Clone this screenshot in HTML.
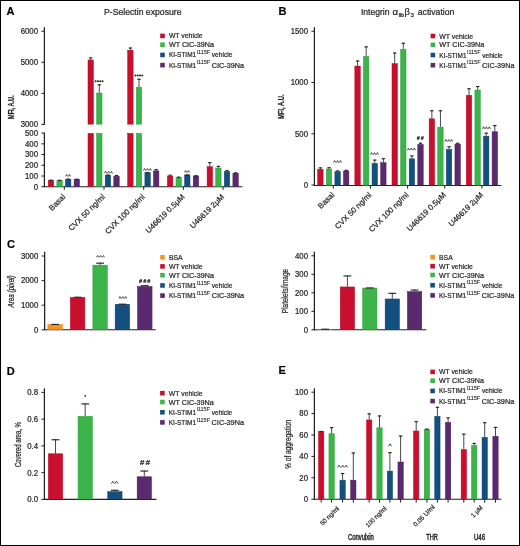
<!DOCTYPE html>
<html><head><meta charset="utf-8"><style>
html,body{margin:0;padding:0;background:#fff;}
body{width:520px;height:546px;overflow:hidden;}
svg{display:block;font-family:"Liberation Sans", sans-serif;will-change:transform;}
text{stroke:#231f20;stroke-width:0.22px;}
</style></head><body>
<svg width="520" height="546" viewBox="0 0 520 546">
<rect width="520" height="546" fill="#fff"/>
<rect x="0.5" y="0.5" width="519" height="545" fill="none" stroke="#000" stroke-width="1"/>
<text x="6.4" y="14.7" font-size="11" font-weight="bold" fill="#000">A</text>
<text x="278.6" y="14.9" font-size="11" font-weight="bold" fill="#000">B</text>
<text x="7" y="248.3" font-size="11" font-weight="bold" fill="#000">C</text>
<text x="6.7" y="374.7" font-size="11" font-weight="bold" fill="#000">D</text>
<text x="278.5" y="374.4" font-size="11" font-weight="bold" fill="#000">E</text>
<text x="104" y="15" font-size="8.6" textLength="77.5" lengthAdjust="spacingAndGlyphs" fill="#231f20">P-Selectin exposure</text>
<line x1="44.4" y1="27.2" x2="44.4" y2="124.9" stroke="#231f20" stroke-width="1.25"/>
<line x1="44.4" y1="132.6" x2="44.4" y2="187.25" stroke="#231f20" stroke-width="1.25"/>
<line x1="41.4" y1="31.25" x2="44.4" y2="31.25" stroke="#231f20" stroke-width="1"/>
<text x="38" y="34.13" font-size="8.2" text-anchor="end" textLength="17.33" lengthAdjust="spacingAndGlyphs" fill="#231f20">6000</text>
<line x1="41.4" y1="62.3" x2="44.4" y2="62.3" stroke="#231f20" stroke-width="1"/>
<text x="38" y="65.18" font-size="8.2" text-anchor="end" textLength="17.33" lengthAdjust="spacingAndGlyphs" fill="#231f20">5000</text>
<line x1="41.4" y1="93.35" x2="44.4" y2="93.35" stroke="#231f20" stroke-width="1"/>
<text x="38" y="96.23" font-size="8.2" text-anchor="end" textLength="17.33" lengthAdjust="spacingAndGlyphs" fill="#231f20">4000</text>
<line x1="41.4" y1="124.4" x2="44.4" y2="124.4" stroke="#231f20" stroke-width="1"/>
<text x="38" y="127.28" font-size="8.2" text-anchor="end" textLength="17.33" lengthAdjust="spacingAndGlyphs" fill="#231f20">3000</text>
<line x1="41.4" y1="133.1" x2="44.4" y2="133.1" stroke="#231f20" stroke-width="1"/>
<text x="38" y="135.98" font-size="8.2" text-anchor="end" textLength="13" lengthAdjust="spacingAndGlyphs" fill="#231f20">500</text>
<line x1="41.4" y1="143.83" x2="44.4" y2="143.83" stroke="#231f20" stroke-width="1"/>
<text x="38" y="146.71" font-size="8.2" text-anchor="end" textLength="13" lengthAdjust="spacingAndGlyphs" fill="#231f20">400</text>
<line x1="41.4" y1="154.56" x2="44.4" y2="154.56" stroke="#231f20" stroke-width="1"/>
<text x="38" y="157.44" font-size="8.2" text-anchor="end" textLength="13" lengthAdjust="spacingAndGlyphs" fill="#231f20">300</text>
<line x1="41.4" y1="165.29" x2="44.4" y2="165.29" stroke="#231f20" stroke-width="1"/>
<text x="38" y="168.17" font-size="8.2" text-anchor="end" textLength="13" lengthAdjust="spacingAndGlyphs" fill="#231f20">200</text>
<line x1="41.4" y1="176.02" x2="44.4" y2="176.02" stroke="#231f20" stroke-width="1"/>
<text x="38" y="178.9" font-size="8.2" text-anchor="end" textLength="13" lengthAdjust="spacingAndGlyphs" fill="#231f20">100</text>
<line x1="41.4" y1="186.75" x2="44.4" y2="186.75" stroke="#231f20" stroke-width="1"/>
<text x="38" y="189.63" font-size="8.2" text-anchor="end" textLength="4.33" lengthAdjust="spacingAndGlyphs" fill="#231f20">0</text>
<line x1="44.4" y1="186.75" x2="242.5" y2="186.75" stroke="#231f20" stroke-width="1.1"/>
<text transform="translate(13.6 107.2) rotate(-90)" x="0" y="0" font-size="9.8" text-anchor="middle" fill="#231f20" textLength="23.6" lengthAdjust="spacingAndGlyphs" font-weight="bold">MFI, A.U.</text>
<line x1="64.3" y1="186.75" x2="64.3" y2="189.85" stroke="#231f20" stroke-width="1"/>
<rect x="48.3" y="180.35" width="5.4" height="6.15" fill="#c8102e" stroke="#bd0020" stroke-width="0.5"/>
<line x1="51" y1="180.1" x2="51" y2="179.67" stroke="#333333" stroke-width="0.9"/>
<line x1="49.3" y1="180.22" x2="52.7" y2="180.22" stroke="#262626" stroke-width="1.15"/>
<rect x="56.9" y="180.45" width="5.4" height="6.05" fill="#3cb44a" stroke="#20a236" stroke-width="0.5"/>
<line x1="59.6" y1="180.2" x2="59.6" y2="179.78" stroke="#333333" stroke-width="0.9"/>
<line x1="57.9" y1="180.33" x2="61.3" y2="180.33" stroke="#262626" stroke-width="1.15"/>
<rect x="65.5" y="179.27" width="5.4" height="7.23" fill="#134f7f" stroke="#053f6e" stroke-width="0.5"/>
<line x1="68.2" y1="179.02" x2="68.2" y2="178.6" stroke="#333333" stroke-width="0.9"/>
<line x1="66.5" y1="179.15" x2="69.9" y2="179.15" stroke="#262626" stroke-width="1.15"/>
<rect x="74.1" y="179.27" width="5.4" height="7.23" fill="#5b2a6e" stroke="#4a1660" stroke-width="0.5"/>
<line x1="76.8" y1="179.02" x2="76.8" y2="178.7" stroke="#333333" stroke-width="0.9"/>
<line x1="75.1" y1="179.25" x2="78.5" y2="179.25" stroke="#262626" stroke-width="1.15"/>
<line x1="104" y1="186.75" x2="104" y2="189.85" stroke="#231f20" stroke-width="1"/>
<rect x="88" y="133.35" width="5.4" height="53.15" fill="#c8102e" stroke="#bd0020" stroke-width="0.5"/>
<rect x="88" y="59.94" width="5.4" height="64.21" fill="#c8102e" stroke="#bd0020" stroke-width="0.5"/>
<line x1="90.7" y1="59.69" x2="90.7" y2="57.39" stroke="#333333" stroke-width="0.9"/>
<line x1="89" y1="57.94" x2="92.4" y2="57.94" stroke="#262626" stroke-width="1.15"/>
<rect x="96.6" y="133.35" width="5.4" height="53.15" fill="#3cb44a" stroke="#20a236" stroke-width="0.5"/>
<rect x="96.6" y="93.04" width="5.4" height="31.11" fill="#3cb44a" stroke="#20a236" stroke-width="0.5"/>
<line x1="99.3" y1="92.79" x2="99.3" y2="84.31" stroke="#333333" stroke-width="0.9"/>
<line x1="97.6" y1="84.86" x2="101" y2="84.86" stroke="#262626" stroke-width="1.15"/>
<rect x="105.2" y="175.2" width="5.4" height="11.3" fill="#134f7f" stroke="#053f6e" stroke-width="0.5"/>
<line x1="107.9" y1="174.95" x2="107.9" y2="174.52" stroke="#333333" stroke-width="0.9"/>
<line x1="106.2" y1="175.07" x2="109.6" y2="175.07" stroke="#262626" stroke-width="1.15"/>
<rect x="113.8" y="176.27" width="5.4" height="10.23" fill="#5b2a6e" stroke="#4a1660" stroke-width="0.5"/>
<rect x="114.8" y="174.92" width="3.4" height="1.1" fill="#262626"/>
<line x1="143.7" y1="186.75" x2="143.7" y2="189.85" stroke="#231f20" stroke-width="1"/>
<rect x="127.7" y="133.35" width="5.4" height="53.15" fill="#c8102e" stroke="#bd0020" stroke-width="0.5"/>
<rect x="127.7" y="50.25" width="5.4" height="73.9" fill="#c8102e" stroke="#bd0020" stroke-width="0.5"/>
<line x1="130.4" y1="50" x2="130.4" y2="47.49" stroke="#333333" stroke-width="0.9"/>
<line x1="128.7" y1="48.04" x2="132.1" y2="48.04" stroke="#262626" stroke-width="1.15"/>
<rect x="136.3" y="133.35" width="5.4" height="53.15" fill="#3cb44a" stroke="#20a236" stroke-width="0.5"/>
<rect x="136.3" y="87.27" width="5.4" height="36.88" fill="#3cb44a" stroke="#20a236" stroke-width="0.5"/>
<line x1="139" y1="87.02" x2="139" y2="78.69" stroke="#333333" stroke-width="0.9"/>
<line x1="137.3" y1="79.24" x2="140.7" y2="79.24" stroke="#262626" stroke-width="1.15"/>
<rect x="144.9" y="172.73" width="5.4" height="13.77" fill="#134f7f" stroke="#053f6e" stroke-width="0.5"/>
<line x1="147.6" y1="172.48" x2="147.6" y2="172.05" stroke="#333333" stroke-width="0.9"/>
<line x1="145.9" y1="172.6" x2="149.3" y2="172.6" stroke="#262626" stroke-width="1.15"/>
<rect x="153.5" y="170.91" width="5.4" height="15.59" fill="#5b2a6e" stroke="#4a1660" stroke-width="0.5"/>
<line x1="156.2" y1="170.66" x2="156.2" y2="169.05" stroke="#333333" stroke-width="0.9"/>
<line x1="154.5" y1="169.6" x2="157.9" y2="169.6" stroke="#262626" stroke-width="1.15"/>
<line x1="183.4" y1="186.75" x2="183.4" y2="189.85" stroke="#231f20" stroke-width="1"/>
<rect x="167.4" y="175.95" width="5.4" height="10.55" fill="#c8102e" stroke="#bd0020" stroke-width="0.5"/>
<rect x="168.4" y="174.6" width="3.4" height="1.1" fill="#262626"/>
<rect x="176" y="177.24" width="5.4" height="9.26" fill="#3cb44a" stroke="#20a236" stroke-width="0.5"/>
<line x1="178.7" y1="176.99" x2="178.7" y2="176.66" stroke="#333333" stroke-width="0.9"/>
<line x1="177" y1="177.21" x2="180.4" y2="177.21" stroke="#262626" stroke-width="1.15"/>
<rect x="184.6" y="174.98" width="5.4" height="11.52" fill="#134f7f" stroke="#053f6e" stroke-width="0.5"/>
<line x1="187.3" y1="174.73" x2="187.3" y2="174.41" stroke="#333333" stroke-width="0.9"/>
<line x1="185.6" y1="174.96" x2="189" y2="174.96" stroke="#262626" stroke-width="1.15"/>
<rect x="193.2" y="175.95" width="5.4" height="10.55" fill="#5b2a6e" stroke="#4a1660" stroke-width="0.5"/>
<line x1="195.9" y1="175.7" x2="195.9" y2="175.27" stroke="#333333" stroke-width="0.9"/>
<line x1="194.2" y1="175.82" x2="197.6" y2="175.82" stroke="#262626" stroke-width="1.15"/>
<line x1="223.1" y1="186.75" x2="223.1" y2="189.85" stroke="#231f20" stroke-width="1"/>
<rect x="207.1" y="166.72" width="5.4" height="19.78" fill="#c8102e" stroke="#bd0020" stroke-width="0.5"/>
<line x1="209.8" y1="166.47" x2="209.8" y2="162.07" stroke="#333333" stroke-width="0.9"/>
<line x1="208.1" y1="162.62" x2="211.5" y2="162.62" stroke="#262626" stroke-width="1.15"/>
<rect x="215.7" y="168.01" width="5.4" height="18.49" fill="#3cb44a" stroke="#20a236" stroke-width="0.5"/>
<line x1="218.4" y1="167.76" x2="218.4" y2="165.83" stroke="#333333" stroke-width="0.9"/>
<line x1="216.7" y1="166.38" x2="220.1" y2="166.38" stroke="#262626" stroke-width="1.15"/>
<rect x="224.3" y="171.44" width="5.4" height="15.06" fill="#134f7f" stroke="#053f6e" stroke-width="0.5"/>
<rect x="225.3" y="170.09" width="3.4" height="1.1" fill="#262626"/>
<rect x="232.9" y="173.27" width="5.4" height="13.23" fill="#5b2a6e" stroke="#4a1660" stroke-width="0.5"/>
<line x1="235.6" y1="173.02" x2="235.6" y2="172.26" stroke="#333333" stroke-width="0.9"/>
<line x1="233.9" y1="172.81" x2="237.3" y2="172.81" stroke="#262626" stroke-width="1.15"/>
<polyline points="65.55,176.45 66.65,174.4 67.75,176.45" fill="none" stroke="#231f20" stroke-width="0.8" stroke-linejoin="miter"/>
<polyline points="68.45,176.45 69.55,174.4 70.65,176.45" fill="none" stroke="#231f20" stroke-width="0.8" stroke-linejoin="miter"/>
<circle cx="95.65" cy="81.3" r="1" fill="#231f20"/>
<circle cx="97.95" cy="81.3" r="1" fill="#231f20"/>
<circle cx="100.25" cy="81.3" r="1" fill="#231f20"/>
<circle cx="102.55" cy="81.3" r="1" fill="#231f20"/>
<polyline points="104.5,173.35 105.6,171.3 106.7,173.35" fill="none" stroke="#231f20" stroke-width="0.8" stroke-linejoin="miter"/>
<polyline points="107.4,173.35 108.5,171.3 109.6,173.35" fill="none" stroke="#231f20" stroke-width="0.8" stroke-linejoin="miter"/>
<polyline points="110.3,173.35 111.4,171.3 112.5,173.35" fill="none" stroke="#231f20" stroke-width="0.8" stroke-linejoin="miter"/>
<circle cx="135.35" cy="75.6" r="1" fill="#231f20"/>
<circle cx="137.65" cy="75.6" r="1" fill="#231f20"/>
<circle cx="139.95" cy="75.6" r="1" fill="#231f20"/>
<circle cx="142.25" cy="75.6" r="1" fill="#231f20"/>
<polyline points="143.4,170.55 144.5,168.5 145.6,170.55" fill="none" stroke="#231f20" stroke-width="0.8" stroke-linejoin="miter"/>
<polyline points="146.3,170.55 147.4,168.5 148.5,170.55" fill="none" stroke="#231f20" stroke-width="0.8" stroke-linejoin="miter"/>
<polyline points="149.2,170.55 150.3,168.5 151.4,170.55" fill="none" stroke="#231f20" stroke-width="0.8" stroke-linejoin="miter"/>
<polyline points="184.55,172.55 185.65,170.5 186.75,172.55" fill="none" stroke="#231f20" stroke-width="0.8" stroke-linejoin="miter"/>
<polyline points="187.45,172.55 188.55,170.5 189.65,172.55" fill="none" stroke="#231f20" stroke-width="0.8" stroke-linejoin="miter"/>
<text transform="translate(65.9 197.35) rotate(-45)" x="0" y="0" font-size="7.8" text-anchor="end" fill="#231f20">Basal</text>
<text transform="translate(105.6 197.35) rotate(-45)" x="0" y="0" font-size="7.8" text-anchor="end" fill="#231f20">CVX 50 ng/ml</text>
<text transform="translate(145.3 197.35) rotate(-45)" x="0" y="0" font-size="7.8" text-anchor="end" fill="#231f20">CVX 100 ng/ml</text>
<text transform="translate(185 197.35) rotate(-45)" x="0" y="0" font-size="7.8" text-anchor="end" fill="#231f20">U46619 0.5μM</text>
<text transform="translate(224.7 197.35) rotate(-45)" x="0" y="0" font-size="7.8" text-anchor="end" fill="#231f20">U46619 2μM</text>
<rect x="160.2" y="33.6" width="4.6" height="4.6" fill="#c8102e"/>
<text x="168.9" y="38.4" font-size="7.4" textLength="33.8" lengthAdjust="spacingAndGlyphs" fill="#231f20">WT vehicle</text>
<rect x="160.2" y="42.45" width="4.6" height="4.6" fill="#3cb44a"/>
<text x="168.9" y="47.25" font-size="7.4" textLength="45" lengthAdjust="spacingAndGlyphs" fill="#231f20">WT CIC-39Na</text>
<rect x="160.2" y="52.65" width="4.6" height="4.6" fill="#134f7f"/>
<text x="168.9" y="57.45" font-size="7.4" textLength="27.2" lengthAdjust="spacingAndGlyphs" fill="#231f20">KI-STIM1</text>
<text x="196.5" y="54.05" font-size="5.3" textLength="13.6" lengthAdjust="spacingAndGlyphs" fill="#231f20" style="stroke-width:0.1px">I115F</text>
<text x="211.8" y="57.45" font-size="7.4" textLength="20.6" lengthAdjust="spacingAndGlyphs" fill="#231f20">vehicle</text>
<rect x="160.2" y="62.8" width="4.6" height="4.6" fill="#5b2a6e"/>
<text x="168.9" y="67.6" font-size="7.4" textLength="27.2" lengthAdjust="spacingAndGlyphs" fill="#231f20">KI-STIM1</text>
<text x="196.5" y="64.2" font-size="5.3" textLength="13.6" lengthAdjust="spacingAndGlyphs" fill="#231f20" style="stroke-width:0.1px">I115F</text>
<text x="211.7" y="67.6" font-size="7.4" textLength="32.4" lengthAdjust="spacingAndGlyphs" fill="#231f20">CIC-39Na</text>
<text x="360.9" y="15.1" font-size="8.6" fill="#231f20">Integrin</text>
<text x="392.4" y="15.1" font-size="9.2" textLength="5.6" lengthAdjust="spacingAndGlyphs" fill="#231f20">α</text>
<text x="398.7" y="16.6" font-size="5.6" font-weight="bold" textLength="5.2" lengthAdjust="spacingAndGlyphs" fill="#231f20">IIb</text>
<text x="404.5" y="15.1" font-size="9.2" textLength="5.4" lengthAdjust="spacingAndGlyphs" fill="#231f20">β</text>
<text x="410.6" y="16.6" font-size="6.2" fill="#231f20">3</text>
<text x="417.8" y="15.1" font-size="8.6" textLength="36.6" lengthAdjust="spacingAndGlyphs" fill="#231f20">activation</text>
<line x1="314.4" y1="27.2" x2="314.4" y2="185.95" stroke="#231f20" stroke-width="1.25"/>
<line x1="311.4" y1="31.25" x2="314.4" y2="31.25" stroke="#231f20" stroke-width="1"/>
<text x="308" y="34.13" font-size="8.2" text-anchor="end" textLength="17.33" lengthAdjust="spacingAndGlyphs" fill="#231f20">1500</text>
<line x1="311.4" y1="82.5" x2="314.4" y2="82.5" stroke="#231f20" stroke-width="1"/>
<text x="308" y="85.38" font-size="8.2" text-anchor="end" textLength="17.33" lengthAdjust="spacingAndGlyphs" fill="#231f20">1000</text>
<line x1="311.4" y1="133.75" x2="314.4" y2="133.75" stroke="#231f20" stroke-width="1"/>
<text x="308" y="136.63" font-size="8.2" text-anchor="end" textLength="13" lengthAdjust="spacingAndGlyphs" fill="#231f20">500</text>
<line x1="311.4" y1="185" x2="314.4" y2="185" stroke="#231f20" stroke-width="1"/>
<text x="308" y="187.88" font-size="8.2" text-anchor="end" textLength="4.33" lengthAdjust="spacingAndGlyphs" fill="#231f20">0</text>
<line x1="314.4" y1="185.45" x2="501.25" y2="185.45" stroke="#231f20" stroke-width="1.1"/>
<text transform="translate(284 106.7) rotate(-90)" x="0" y="0" font-size="9.8" text-anchor="middle" fill="#231f20" textLength="24.6" lengthAdjust="spacingAndGlyphs" font-weight="bold">MFI, A.U.</text>
<line x1="333.3" y1="185.45" x2="333.3" y2="188.65" stroke="#231f20" stroke-width="1"/>
<rect x="317.7" y="169.36" width="5.4" height="15.84" fill="#c8102e" stroke="#bd0020" stroke-width="0.5"/>
<line x1="320.4" y1="169.11" x2="320.4" y2="167.37" stroke="#333333" stroke-width="0.9"/>
<line x1="318.7" y1="167.92" x2="322.1" y2="167.92" stroke="#262626" stroke-width="1.15"/>
<rect x="326.3" y="168.95" width="5.4" height="16.25" fill="#3cb44a" stroke="#20a236" stroke-width="0.5"/>
<line x1="329" y1="168.7" x2="329" y2="167.16" stroke="#333333" stroke-width="0.9"/>
<line x1="327.3" y1="167.72" x2="330.7" y2="167.72" stroke="#262626" stroke-width="1.15"/>
<rect x="334.9" y="171.72" width="5.4" height="13.48" fill="#134f7f" stroke="#053f6e" stroke-width="0.5"/>
<line x1="337.6" y1="171.47" x2="337.6" y2="170.44" stroke="#333333" stroke-width="0.9"/>
<line x1="335.9" y1="171" x2="339.3" y2="171" stroke="#262626" stroke-width="1.15"/>
<rect x="343.5" y="171" width="5.4" height="14.2" fill="#5b2a6e" stroke="#4a1660" stroke-width="0.5"/>
<line x1="346.2" y1="170.75" x2="346.2" y2="169.83" stroke="#333333" stroke-width="0.9"/>
<line x1="344.5" y1="170.38" x2="347.9" y2="170.38" stroke="#262626" stroke-width="1.15"/>
<line x1="370.45" y1="185.45" x2="370.45" y2="188.65" stroke="#231f20" stroke-width="1"/>
<rect x="354.85" y="66.04" width="5.4" height="119.16" fill="#c8102e" stroke="#bd0020" stroke-width="0.5"/>
<line x1="357.55" y1="65.79" x2="357.55" y2="60.46" stroke="#333333" stroke-width="0.9"/>
<line x1="355.85" y1="61.01" x2="359.25" y2="61.01" stroke="#262626" stroke-width="1.15"/>
<rect x="363.45" y="56.41" width="5.4" height="128.79" fill="#3cb44a" stroke="#20a236" stroke-width="0.5"/>
<line x1="366.15" y1="56.16" x2="366.15" y2="46.32" stroke="#333333" stroke-width="0.9"/>
<line x1="364.45" y1="46.87" x2="367.85" y2="46.87" stroke="#262626" stroke-width="1.15"/>
<rect x="372.05" y="163.42" width="5.4" height="21.78" fill="#134f7f" stroke="#053f6e" stroke-width="0.5"/>
<line x1="374.75" y1="163.17" x2="374.75" y2="159.58" stroke="#333333" stroke-width="0.9"/>
<line x1="373.05" y1="160.13" x2="376.45" y2="160.13" stroke="#262626" stroke-width="1.15"/>
<rect x="380.65" y="162.7" width="5.4" height="22.5" fill="#5b2a6e" stroke="#4a1660" stroke-width="0.5"/>
<line x1="383.35" y1="162.45" x2="383.35" y2="158.15" stroke="#333333" stroke-width="0.9"/>
<line x1="381.65" y1="158.7" x2="385.05" y2="158.7" stroke="#262626" stroke-width="1.15"/>
<line x1="407.6" y1="185.45" x2="407.6" y2="188.65" stroke="#231f20" stroke-width="1"/>
<rect x="392" y="63.58" width="5.4" height="121.62" fill="#c8102e" stroke="#bd0020" stroke-width="0.5"/>
<line x1="394.7" y1="63.33" x2="394.7" y2="52.47" stroke="#333333" stroke-width="0.9"/>
<line x1="393" y1="53.02" x2="396.4" y2="53.02" stroke="#262626" stroke-width="1.15"/>
<rect x="400.6" y="49.44" width="5.4" height="135.76" fill="#3cb44a" stroke="#20a236" stroke-width="0.5"/>
<line x1="403.3" y1="49.19" x2="403.3" y2="42.73" stroke="#333333" stroke-width="0.9"/>
<line x1="401.6" y1="43.28" x2="405" y2="43.28" stroke="#262626" stroke-width="1.15"/>
<rect x="409.2" y="158.81" width="5.4" height="26.39" fill="#134f7f" stroke="#053f6e" stroke-width="0.5"/>
<line x1="411.9" y1="158.56" x2="411.9" y2="155.38" stroke="#333333" stroke-width="0.9"/>
<line x1="410.2" y1="155.93" x2="413.6" y2="155.93" stroke="#262626" stroke-width="1.15"/>
<rect x="417.8" y="144.46" width="5.4" height="40.74" fill="#5b2a6e" stroke="#4a1660" stroke-width="0.5"/>
<line x1="420.5" y1="144.21" x2="420.5" y2="142.67" stroke="#333333" stroke-width="0.9"/>
<line x1="418.8" y1="143.22" x2="422.2" y2="143.22" stroke="#262626" stroke-width="1.15"/>
<line x1="444.75" y1="185.45" x2="444.75" y2="188.65" stroke="#231f20" stroke-width="1"/>
<rect x="429.15" y="118.83" width="5.4" height="66.37" fill="#c8102e" stroke="#bd0020" stroke-width="0.5"/>
<line x1="431.85" y1="118.58" x2="431.85" y2="110.18" stroke="#333333" stroke-width="0.9"/>
<line x1="430.15" y1="110.73" x2="433.55" y2="110.73" stroke="#262626" stroke-width="1.15"/>
<rect x="437.75" y="127.13" width="5.4" height="58.07" fill="#3cb44a" stroke="#20a236" stroke-width="0.5"/>
<line x1="440.45" y1="126.88" x2="440.45" y2="110.18" stroke="#333333" stroke-width="0.9"/>
<line x1="438.75" y1="110.73" x2="442.15" y2="110.73" stroke="#262626" stroke-width="1.15"/>
<rect x="446.35" y="149.48" width="5.4" height="35.72" fill="#134f7f" stroke="#053f6e" stroke-width="0.5"/>
<line x1="449.05" y1="149.23" x2="449.05" y2="146.25" stroke="#333333" stroke-width="0.9"/>
<line x1="447.35" y1="146.81" x2="450.75" y2="146.81" stroke="#262626" stroke-width="1.15"/>
<rect x="454.95" y="144.05" width="5.4" height="41.15" fill="#5b2a6e" stroke="#4a1660" stroke-width="0.5"/>
<rect x="455.95" y="142.7" width="3.4" height="1.1" fill="#262626"/>
<line x1="481.9" y1="185.45" x2="481.9" y2="188.65" stroke="#231f20" stroke-width="1"/>
<rect x="466.3" y="95.26" width="5.4" height="89.94" fill="#c8102e" stroke="#bd0020" stroke-width="0.5"/>
<line x1="469" y1="95.01" x2="469" y2="88.24" stroke="#333333" stroke-width="0.9"/>
<line x1="467.3" y1="88.79" x2="470.7" y2="88.79" stroke="#262626" stroke-width="1.15"/>
<rect x="474.9" y="90.03" width="5.4" height="95.17" fill="#3cb44a" stroke="#20a236" stroke-width="0.5"/>
<line x1="477.6" y1="89.78" x2="477.6" y2="85.98" stroke="#333333" stroke-width="0.9"/>
<line x1="475.9" y1="86.53" x2="479.3" y2="86.53" stroke="#262626" stroke-width="1.15"/>
<rect x="483.5" y="136.15" width="5.4" height="49.05" fill="#134f7f" stroke="#053f6e" stroke-width="0.5"/>
<line x1="486.2" y1="135.9" x2="486.2" y2="132.62" stroke="#333333" stroke-width="0.9"/>
<line x1="484.5" y1="133.17" x2="487.9" y2="133.17" stroke="#262626" stroke-width="1.15"/>
<rect x="492.1" y="131.75" width="5.4" height="53.45" fill="#5b2a6e" stroke="#4a1660" stroke-width="0.5"/>
<line x1="494.8" y1="131.5" x2="494.8" y2="125.04" stroke="#333333" stroke-width="0.9"/>
<line x1="493.1" y1="125.59" x2="496.5" y2="125.59" stroke="#262626" stroke-width="1.15"/>
<polyline points="333.5,162.55 334.6,160.5 335.7,162.55" fill="none" stroke="#231f20" stroke-width="0.8" stroke-linejoin="miter"/>
<polyline points="336.4,162.55 337.5,160.5 338.6,162.55" fill="none" stroke="#231f20" stroke-width="0.8" stroke-linejoin="miter"/>
<polyline points="339.3,162.55 340.4,160.5 341.5,162.55" fill="none" stroke="#231f20" stroke-width="0.8" stroke-linejoin="miter"/>
<polyline points="370.5,154.65 371.6,152.6 372.7,154.65" fill="none" stroke="#231f20" stroke-width="0.8" stroke-linejoin="miter"/>
<polyline points="373.4,154.65 374.5,152.6 375.6,154.65" fill="none" stroke="#231f20" stroke-width="0.8" stroke-linejoin="miter"/>
<polyline points="376.3,154.65 377.4,152.6 378.5,154.65" fill="none" stroke="#231f20" stroke-width="0.8" stroke-linejoin="miter"/>
<polyline points="407.45,150.15 408.55,148.1 409.65,150.15" fill="none" stroke="#231f20" stroke-width="0.8" stroke-linejoin="miter"/>
<polyline points="410.35,150.15 411.45,148.1 412.55,150.15" fill="none" stroke="#231f20" stroke-width="0.8" stroke-linejoin="miter"/>
<polyline points="413.25,150.15 414.35,148.1 415.45,150.15" fill="none" stroke="#231f20" stroke-width="0.8" stroke-linejoin="miter"/>
<text x="418.1" y="139.6" font-size="5.2" text-anchor="middle" font-weight="bold" fill="#231f20" font-style="italic">#</text>
<text x="422.3" y="139.6" font-size="5.2" text-anchor="middle" font-weight="bold" fill="#231f20" font-style="italic">#</text>
<polyline points="444.7,141.55 445.8,139.5 446.9,141.55" fill="none" stroke="#231f20" stroke-width="0.8" stroke-linejoin="miter"/>
<polyline points="447.6,141.55 448.7,139.5 449.8,141.55" fill="none" stroke="#231f20" stroke-width="0.8" stroke-linejoin="miter"/>
<polyline points="450.5,141.55 451.6,139.5 452.7,141.55" fill="none" stroke="#231f20" stroke-width="0.8" stroke-linejoin="miter"/>
<polyline points="482.4,128.85 483.5,126.8 484.6,128.85" fill="none" stroke="#231f20" stroke-width="0.8" stroke-linejoin="miter"/>
<polyline points="485.3,128.85 486.4,126.8 487.5,128.85" fill="none" stroke="#231f20" stroke-width="0.8" stroke-linejoin="miter"/>
<polyline points="488.2,128.85 489.3,126.8 490.4,128.85" fill="none" stroke="#231f20" stroke-width="0.8" stroke-linejoin="miter"/>
<text transform="translate(334.9 195.4) rotate(-45)" x="0" y="0" font-size="7.8" text-anchor="end" fill="#231f20">Basal</text>
<text transform="translate(372.05 195.4) rotate(-45)" x="0" y="0" font-size="7.8" text-anchor="end" fill="#231f20">CVX 50 ng/ml</text>
<text transform="translate(409.2 195.4) rotate(-45)" x="0" y="0" font-size="7.8" text-anchor="end" fill="#231f20">CVX 100 ng/ml</text>
<text transform="translate(446.35 195.4) rotate(-45)" x="0" y="0" font-size="7.8" text-anchor="end" fill="#231f20">U46619 0.5μM</text>
<text transform="translate(483.5 195.4) rotate(-45)" x="0" y="0" font-size="7.8" text-anchor="end" fill="#231f20">U46619 2μM</text>
<rect x="430.6" y="33.7" width="4.6" height="4.6" fill="#c8102e"/>
<text x="439.3" y="38.5" font-size="7.4" textLength="33.8" lengthAdjust="spacingAndGlyphs" fill="#231f20">WT vehicle</text>
<rect x="430.6" y="42.55" width="4.6" height="4.6" fill="#3cb44a"/>
<text x="439.3" y="47.35" font-size="7.4" textLength="45" lengthAdjust="spacingAndGlyphs" fill="#231f20">WT CIC-39Na</text>
<rect x="430.6" y="52.75" width="4.6" height="4.6" fill="#134f7f"/>
<text x="439.3" y="57.55" font-size="7.4" textLength="27.2" lengthAdjust="spacingAndGlyphs" fill="#231f20">KI-STIM1</text>
<text x="466.9" y="54.15" font-size="5.3" textLength="13.6" lengthAdjust="spacingAndGlyphs" fill="#231f20" style="stroke-width:0.1px">I115F</text>
<text x="482.2" y="57.55" font-size="7.4" textLength="20.6" lengthAdjust="spacingAndGlyphs" fill="#231f20">vehicle</text>
<rect x="430.6" y="62.9" width="4.6" height="4.6" fill="#5b2a6e"/>
<text x="439.3" y="67.7" font-size="7.4" textLength="27.2" lengthAdjust="spacingAndGlyphs" fill="#231f20">KI-STIM1</text>
<text x="466.9" y="64.3" font-size="5.3" textLength="13.6" lengthAdjust="spacingAndGlyphs" fill="#231f20" style="stroke-width:0.1px">I115F</text>
<text x="482.1" y="67.7" font-size="7.4" textLength="32.4" lengthAdjust="spacingAndGlyphs" fill="#231f20">CIC-39Na</text>
<line x1="44.65" y1="251.8" x2="44.65" y2="330.3" stroke="#231f20" stroke-width="1.25"/>
<line x1="41.65" y1="256" x2="44.65" y2="256" stroke="#231f20" stroke-width="1"/>
<text x="38.25" y="258.88" font-size="8.2" text-anchor="end" textLength="17.33" lengthAdjust="spacingAndGlyphs" fill="#231f20">3000</text>
<line x1="41.65" y1="280.6" x2="44.65" y2="280.6" stroke="#231f20" stroke-width="1"/>
<text x="38.25" y="283.48" font-size="8.2" text-anchor="end" textLength="17.33" lengthAdjust="spacingAndGlyphs" fill="#231f20">2000</text>
<line x1="41.65" y1="305.2" x2="44.65" y2="305.2" stroke="#231f20" stroke-width="1"/>
<text x="38.25" y="308.08" font-size="8.2" text-anchor="end" textLength="17.33" lengthAdjust="spacingAndGlyphs" fill="#231f20">1000</text>
<line x1="41.65" y1="329.8" x2="44.65" y2="329.8" stroke="#231f20" stroke-width="1"/>
<text x="38.25" y="332.68" font-size="8.2" text-anchor="end" textLength="4.33" lengthAdjust="spacingAndGlyphs" fill="#231f20">0</text>
<line x1="44.65" y1="329.8" x2="155.8" y2="329.8" stroke="#231f20" stroke-width="1.1"/>
<text transform="translate(13.7 291.4) rotate(-90)" x="0" y="0" font-size="8.2" text-anchor="middle" fill="#231f20" textLength="32" lengthAdjust="spacingAndGlyphs" font-style="italic">Area (pixel)</text>
<rect x="47.85" y="324.54" width="14.5" height="5.01" fill="#f7941d" stroke="#f08200" stroke-width="0.5"/>
<line x1="55.1" y1="324.29" x2="55.1" y2="323.9" stroke="#333333" stroke-width="0.9"/>
<line x1="51.2" y1="324.45" x2="59" y2="324.45" stroke="#262626" stroke-width="1.15"/>
<rect x="70.35" y="297.46" width="14.5" height="32.09" fill="#c8102e" stroke="#bd0020" stroke-width="0.5"/>
<line x1="77.6" y1="297.21" x2="77.6" y2="296.71" stroke="#333333" stroke-width="0.9"/>
<line x1="73.7" y1="297.26" x2="81.5" y2="297.26" stroke="#262626" stroke-width="1.15"/>
<rect x="92.85" y="265.16" width="14.5" height="64.39" fill="#3cb44a" stroke="#20a236" stroke-width="0.5"/>
<line x1="100.1" y1="264.91" x2="100.1" y2="262.64" stroke="#333333" stroke-width="0.9"/>
<line x1="96.2" y1="263.19" x2="104" y2="263.19" stroke="#262626" stroke-width="1.15"/>
<rect x="115.15" y="304.34" width="14.5" height="25.21" fill="#134f7f" stroke="#053f6e" stroke-width="0.5"/>
<line x1="122.4" y1="304.09" x2="122.4" y2="303.67" stroke="#333333" stroke-width="0.9"/>
<line x1="118.5" y1="304.22" x2="126.3" y2="304.22" stroke="#262626" stroke-width="1.15"/>
<rect x="137.55" y="286.46" width="14.5" height="43.09" fill="#5b2a6e" stroke="#4a1660" stroke-width="0.5"/>
<rect x="140.9" y="285.11" width="7.8" height="1.1" fill="#262626"/>
<polyline points="96.5,257.25 97.6,255.5 98.7,257.25" fill="none" stroke="#231f20" stroke-width="0.8" stroke-linejoin="miter"/>
<polyline points="99.4,257.25 100.5,255.5 101.6,257.25" fill="none" stroke="#231f20" stroke-width="0.8" stroke-linejoin="miter"/>
<polyline points="102.3,257.25 103.4,255.5 104.5,257.25" fill="none" stroke="#231f20" stroke-width="0.8" stroke-linejoin="miter"/>
<polyline points="118.8,298.55 119.9,296.6 121,298.55" fill="none" stroke="#231f20" stroke-width="0.8" stroke-linejoin="miter"/>
<polyline points="121.7,298.55 122.8,296.6 123.9,298.55" fill="none" stroke="#231f20" stroke-width="0.8" stroke-linejoin="miter"/>
<polyline points="124.6,298.55 125.7,296.6 126.8,298.55" fill="none" stroke="#231f20" stroke-width="0.8" stroke-linejoin="miter"/>
<text x="140.55" y="283" font-size="5.4" text-anchor="middle" font-weight="bold" fill="#231f20" font-style="italic">#</text>
<text x="144.7" y="283" font-size="5.4" text-anchor="middle" font-weight="bold" fill="#231f20" font-style="italic">#</text>
<text x="148.85" y="283" font-size="5.4" text-anchor="middle" font-weight="bold" fill="#231f20" font-style="italic">#</text>
<rect x="160.2" y="255" width="4.6" height="4.6" fill="#f7941d"/>
<text x="168.9" y="259.8" font-size="7.4" textLength="13.8" lengthAdjust="spacingAndGlyphs" fill="#231f20">BSA</text>
<rect x="160.2" y="264.1" width="4.6" height="4.6" fill="#c8102e"/>
<text x="168.9" y="268.9" font-size="7.4" textLength="33.8" lengthAdjust="spacingAndGlyphs" fill="#231f20">WT vehicle</text>
<rect x="160.2" y="272.9" width="4.6" height="4.6" fill="#3cb44a"/>
<text x="168.9" y="277.7" font-size="7.4" textLength="45" lengthAdjust="spacingAndGlyphs" fill="#231f20">WT CIC-39Na</text>
<rect x="160.2" y="283.15" width="4.6" height="4.6" fill="#134f7f"/>
<text x="168.9" y="287.95" font-size="7.4" textLength="27.2" lengthAdjust="spacingAndGlyphs" fill="#231f20">KI-STIM1</text>
<text x="196.5" y="284.55" font-size="5.3" textLength="13.6" lengthAdjust="spacingAndGlyphs" fill="#231f20" style="stroke-width:0.1px">I115F</text>
<text x="211.8" y="287.95" font-size="7.4" textLength="20.6" lengthAdjust="spacingAndGlyphs" fill="#231f20">vehicle</text>
<rect x="160.2" y="293.3" width="4.6" height="4.6" fill="#5b2a6e"/>
<text x="168.9" y="298.1" font-size="7.4" textLength="27.2" lengthAdjust="spacingAndGlyphs" fill="#231f20">KI-STIM1</text>
<text x="196.5" y="294.7" font-size="5.3" textLength="13.6" lengthAdjust="spacingAndGlyphs" fill="#231f20" style="stroke-width:0.1px">I115F</text>
<text x="211.7" y="298.1" font-size="7.4" textLength="32.4" lengthAdjust="spacingAndGlyphs" fill="#231f20">CIC-39Na</text>
<line x1="314.4" y1="251.6" x2="314.4" y2="330.3" stroke="#231f20" stroke-width="1.25"/>
<line x1="311.4" y1="255.8" x2="314.4" y2="255.8" stroke="#231f20" stroke-width="1"/>
<text x="308" y="258.68" font-size="8.2" text-anchor="end" textLength="13" lengthAdjust="spacingAndGlyphs" fill="#231f20">400</text>
<line x1="311.4" y1="274.3" x2="314.4" y2="274.3" stroke="#231f20" stroke-width="1"/>
<text x="308" y="277.18" font-size="8.2" text-anchor="end" textLength="13" lengthAdjust="spacingAndGlyphs" fill="#231f20">300</text>
<line x1="311.4" y1="292.8" x2="314.4" y2="292.8" stroke="#231f20" stroke-width="1"/>
<text x="308" y="295.68" font-size="8.2" text-anchor="end" textLength="13" lengthAdjust="spacingAndGlyphs" fill="#231f20">200</text>
<line x1="311.4" y1="311.3" x2="314.4" y2="311.3" stroke="#231f20" stroke-width="1"/>
<text x="308" y="314.18" font-size="8.2" text-anchor="end" textLength="13" lengthAdjust="spacingAndGlyphs" fill="#231f20">100</text>
<line x1="311.4" y1="329.8" x2="314.4" y2="329.8" stroke="#231f20" stroke-width="1"/>
<text x="308" y="332.68" font-size="8.2" text-anchor="end" textLength="4.33" lengthAdjust="spacingAndGlyphs" fill="#231f20">0</text>
<line x1="314.4" y1="329.8" x2="426.25" y2="329.8" stroke="#231f20" stroke-width="1.1"/>
<text transform="translate(288.4 291) rotate(-90)" x="0" y="0" font-size="8.9" text-anchor="middle" fill="#231f20" textLength="44.3" lengthAdjust="spacingAndGlyphs">Platelets/image</text>
<rect x="317.95" y="329.31" width="14.3" height="0.24" fill="#f7941d" stroke="#f08200" stroke-width="0.5"/>
<line x1="325.1" y1="329.06" x2="325.1" y2="328.69" stroke="#333333" stroke-width="0.9"/>
<line x1="321.2" y1="329.24" x2="329" y2="329.24" stroke="#262626" stroke-width="1.15"/>
<rect x="340.25" y="286.94" width="14.3" height="42.61" fill="#c8102e" stroke="#bd0020" stroke-width="0.5"/>
<line x1="347.4" y1="286.69" x2="347.4" y2="275.41" stroke="#333333" stroke-width="0.9"/>
<line x1="343.5" y1="275.96" x2="351.3" y2="275.96" stroke="#262626" stroke-width="1.15"/>
<rect x="362.65" y="288.06" width="14.3" height="41.5" fill="#3cb44a" stroke="#20a236" stroke-width="0.5"/>
<line x1="369.8" y1="287.81" x2="369.8" y2="287.44" stroke="#333333" stroke-width="0.9"/>
<line x1="365.9" y1="287.99" x2="373.7" y2="287.99" stroke="#262626" stroke-width="1.15"/>
<rect x="385.15" y="298.97" width="14.3" height="30.58" fill="#134f7f" stroke="#053f6e" stroke-width="0.5"/>
<line x1="392.3" y1="298.72" x2="392.3" y2="292.8" stroke="#333333" stroke-width="0.9"/>
<line x1="388.4" y1="293.35" x2="396.2" y2="293.35" stroke="#262626" stroke-width="1.15"/>
<rect x="407.45" y="291.57" width="14.3" height="37.98" fill="#5b2a6e" stroke="#4a1660" stroke-width="0.5"/>
<line x1="414.6" y1="291.32" x2="414.6" y2="289.47" stroke="#333333" stroke-width="0.9"/>
<line x1="410.7" y1="290.02" x2="418.5" y2="290.02" stroke="#262626" stroke-width="1.15"/>
<rect x="430.3" y="254.8" width="4.6" height="4.6" fill="#f7941d"/>
<text x="439" y="259.6" font-size="7.4" textLength="13.8" lengthAdjust="spacingAndGlyphs" fill="#231f20">BSA</text>
<rect x="430.3" y="263.9" width="4.6" height="4.6" fill="#c8102e"/>
<text x="439" y="268.7" font-size="7.4" textLength="33.8" lengthAdjust="spacingAndGlyphs" fill="#231f20">WT vehicle</text>
<rect x="430.3" y="272.7" width="4.6" height="4.6" fill="#3cb44a"/>
<text x="439" y="277.5" font-size="7.4" textLength="45" lengthAdjust="spacingAndGlyphs" fill="#231f20">WT CIC-39Na</text>
<rect x="430.3" y="282.95" width="4.6" height="4.6" fill="#134f7f"/>
<text x="439" y="287.75" font-size="7.4" textLength="27.2" lengthAdjust="spacingAndGlyphs" fill="#231f20">KI-STIM1</text>
<text x="466.6" y="284.35" font-size="5.3" textLength="13.6" lengthAdjust="spacingAndGlyphs" fill="#231f20" style="stroke-width:0.1px">I115F</text>
<text x="481.9" y="287.75" font-size="7.4" textLength="20.6" lengthAdjust="spacingAndGlyphs" fill="#231f20">vehicle</text>
<rect x="430.3" y="293.1" width="4.6" height="4.6" fill="#5b2a6e"/>
<text x="439" y="297.9" font-size="7.4" textLength="27.2" lengthAdjust="spacingAndGlyphs" fill="#231f20">KI-STIM1</text>
<text x="466.6" y="294.5" font-size="5.3" textLength="13.6" lengthAdjust="spacingAndGlyphs" fill="#231f20" style="stroke-width:0.1px">I115F</text>
<text x="481.8" y="297.9" font-size="7.4" textLength="32.4" lengthAdjust="spacingAndGlyphs" fill="#231f20">CIC-39Na</text>
<line x1="44.4" y1="388.3" x2="44.4" y2="499.9" stroke="#231f20" stroke-width="1.25"/>
<line x1="41.4" y1="392.4" x2="44.4" y2="392.4" stroke="#231f20" stroke-width="1"/>
<text x="38" y="395.28" font-size="8.2" text-anchor="end" textLength="10.83" lengthAdjust="spacingAndGlyphs" fill="#231f20">0.8</text>
<line x1="41.4" y1="419.15" x2="44.4" y2="419.15" stroke="#231f20" stroke-width="1"/>
<text x="38" y="422.03" font-size="8.2" text-anchor="end" textLength="10.83" lengthAdjust="spacingAndGlyphs" fill="#231f20">0.6</text>
<line x1="41.4" y1="445.9" x2="44.4" y2="445.9" stroke="#231f20" stroke-width="1"/>
<text x="38" y="448.78" font-size="8.2" text-anchor="end" textLength="10.83" lengthAdjust="spacingAndGlyphs" fill="#231f20">0.4</text>
<line x1="41.4" y1="472.65" x2="44.4" y2="472.65" stroke="#231f20" stroke-width="1"/>
<text x="38" y="475.53" font-size="8.2" text-anchor="end" textLength="10.83" lengthAdjust="spacingAndGlyphs" fill="#231f20">0.2</text>
<line x1="41.4" y1="499.4" x2="44.4" y2="499.4" stroke="#231f20" stroke-width="1"/>
<text x="38" y="502.28" font-size="8.2" text-anchor="end" textLength="10.83" lengthAdjust="spacingAndGlyphs" fill="#231f20">0.0</text>
<line x1="44.4" y1="499.4" x2="156.5" y2="499.4" stroke="#231f20" stroke-width="1.1"/>
<text transform="translate(21.4 444.6) rotate(-90)" x="0" y="0" font-size="9.2" text-anchor="middle" fill="#231f20" textLength="45" lengthAdjust="spacingAndGlyphs">Covered area, %</text>
<rect x="48.35" y="453.77" width="14.3" height="45.38" fill="#c8102e" stroke="#bd0020" stroke-width="0.5"/>
<line x1="55.5" y1="453.52" x2="55.5" y2="439.21" stroke="#333333" stroke-width="0.9"/>
<line x1="51.6" y1="439.76" x2="59.4" y2="439.76" stroke="#262626" stroke-width="1.15"/>
<rect x="78.05" y="416.32" width="14.3" height="82.83" fill="#3cb44a" stroke="#20a236" stroke-width="0.5"/>
<line x1="85.2" y1="416.07" x2="85.2" y2="403.37" stroke="#333333" stroke-width="0.9"/>
<line x1="81.3" y1="403.92" x2="89.1" y2="403.92" stroke="#262626" stroke-width="1.15"/>
<rect x="107.75" y="491.62" width="14.3" height="7.52" fill="#134f7f" stroke="#053f6e" stroke-width="0.5"/>
<line x1="114.9" y1="491.38" x2="114.9" y2="489.77" stroke="#333333" stroke-width="0.9"/>
<line x1="111" y1="490.32" x2="118.8" y2="490.32" stroke="#262626" stroke-width="1.15"/>
<rect x="137.15" y="476.78" width="14.3" height="22.37" fill="#5b2a6e" stroke="#4a1660" stroke-width="0.5"/>
<line x1="144.3" y1="476.53" x2="144.3" y2="470.51" stroke="#333333" stroke-width="0.9"/>
<line x1="140.4" y1="471.06" x2="148.2" y2="471.06" stroke="#262626" stroke-width="1.15"/>
<circle cx="85.2" cy="395.8" r="0.9" fill="#231f20"/>
<polyline points="111.5,483.65 112.95,481.2 114.4,483.65" fill="none" stroke="#231f20" stroke-width="0.8" stroke-linejoin="miter"/>
<polyline points="115.1,483.65 116.55,481.2 118,483.65" fill="none" stroke="#231f20" stroke-width="0.8" stroke-linejoin="miter"/>
<text x="142.05" y="464.9" font-size="8" text-anchor="middle" font-weight="bold" fill="#231f20" font-style="italic">#</text>
<text x="147.65" y="464.9" font-size="8" text-anchor="middle" font-weight="bold" fill="#231f20" font-style="italic">#</text>
<rect x="160.1" y="390.9" width="4.6" height="4.6" fill="#c8102e"/>
<text x="168.8" y="395.7" font-size="7.4" textLength="33.8" lengthAdjust="spacingAndGlyphs" fill="#231f20">WT vehicle</text>
<rect x="160.1" y="399.75" width="4.6" height="4.6" fill="#3cb44a"/>
<text x="168.8" y="404.55" font-size="7.4" textLength="45" lengthAdjust="spacingAndGlyphs" fill="#231f20">WT CIC-39Na</text>
<rect x="160.1" y="409.95" width="4.6" height="4.6" fill="#134f7f"/>
<text x="168.8" y="414.75" font-size="7.4" textLength="27.2" lengthAdjust="spacingAndGlyphs" fill="#231f20">KI-STIM1</text>
<text x="196.4" y="411.35" font-size="5.3" textLength="13.6" lengthAdjust="spacingAndGlyphs" fill="#231f20" style="stroke-width:0.1px">I115F</text>
<text x="211.7" y="414.75" font-size="7.4" textLength="20.6" lengthAdjust="spacingAndGlyphs" fill="#231f20">vehicle</text>
<rect x="160.1" y="420.1" width="4.6" height="4.6" fill="#5b2a6e"/>
<text x="168.8" y="424.9" font-size="7.4" textLength="27.2" lengthAdjust="spacingAndGlyphs" fill="#231f20">KI-STIM1</text>
<text x="196.4" y="421.5" font-size="5.3" textLength="13.6" lengthAdjust="spacingAndGlyphs" fill="#231f20" style="stroke-width:0.1px">I115F</text>
<text x="211.6" y="424.9" font-size="7.4" textLength="32.4" lengthAdjust="spacingAndGlyphs" fill="#231f20">CIC-39Na</text>
<line x1="314.4" y1="388.3" x2="314.4" y2="499.7" stroke="#231f20" stroke-width="1.25"/>
<line x1="311.4" y1="392.2" x2="314.4" y2="392.2" stroke="#231f20" stroke-width="1"/>
<text x="308" y="395.08" font-size="8.2" text-anchor="end" textLength="13" lengthAdjust="spacingAndGlyphs" fill="#231f20">100</text>
<line x1="311.4" y1="413.6" x2="314.4" y2="413.6" stroke="#231f20" stroke-width="1"/>
<text x="308" y="416.48" font-size="8.2" text-anchor="end" textLength="8.66" lengthAdjust="spacingAndGlyphs" fill="#231f20">80</text>
<line x1="311.4" y1="435" x2="314.4" y2="435" stroke="#231f20" stroke-width="1"/>
<text x="308" y="437.88" font-size="8.2" text-anchor="end" textLength="8.66" lengthAdjust="spacingAndGlyphs" fill="#231f20">60</text>
<line x1="311.4" y1="456.4" x2="314.4" y2="456.4" stroke="#231f20" stroke-width="1"/>
<text x="308" y="459.28" font-size="8.2" text-anchor="end" textLength="8.66" lengthAdjust="spacingAndGlyphs" fill="#231f20">40</text>
<line x1="311.4" y1="477.8" x2="314.4" y2="477.8" stroke="#231f20" stroke-width="1"/>
<text x="308" y="480.68" font-size="8.2" text-anchor="end" textLength="8.66" lengthAdjust="spacingAndGlyphs" fill="#231f20">20</text>
<line x1="311.4" y1="499.2" x2="314.4" y2="499.2" stroke="#231f20" stroke-width="1"/>
<text x="308" y="502.08" font-size="8.2" text-anchor="end" textLength="4.33" lengthAdjust="spacingAndGlyphs" fill="#231f20">0</text>
<line x1="314.4" y1="499.2" x2="501.5" y2="499.2" stroke="#231f20" stroke-width="1.1"/>
<text transform="translate(291 444.3) rotate(-90)" x="0" y="0" font-size="9.3" text-anchor="middle" fill="#231f20" textLength="48.8" lengthAdjust="spacingAndGlyphs">% of aggregation</text>
<rect x="318.55" y="431.72" width="5.3" height="67.23" fill="#c8102e" stroke="#bd0020" stroke-width="0.5"/>
<line x1="321.2" y1="431.47" x2="321.2" y2="430.93" stroke="#333333" stroke-width="0.9"/>
<line x1="319.5" y1="431.48" x2="322.9" y2="431.48" stroke="#262626" stroke-width="1.15"/>
<line x1="321.2" y1="499.2" x2="321.2" y2="502.6" stroke="#231f20" stroke-width="1"/>
<rect x="328.95" y="433.75" width="5.3" height="65.2" fill="#3cb44a" stroke="#20a236" stroke-width="0.5"/>
<line x1="331.6" y1="433.5" x2="331.6" y2="427.08" stroke="#333333" stroke-width="0.9"/>
<line x1="329.9" y1="427.63" x2="333.3" y2="427.63" stroke="#262626" stroke-width="1.15"/>
<line x1="331.6" y1="499.2" x2="331.6" y2="502.6" stroke="#231f20" stroke-width="1"/>
<rect x="339.95" y="480.19" width="5.3" height="18.76" fill="#134f7f" stroke="#053f6e" stroke-width="0.5"/>
<line x1="342.6" y1="479.94" x2="342.6" y2="472.99" stroke="#333333" stroke-width="0.9"/>
<line x1="340.9" y1="473.54" x2="344.3" y2="473.54" stroke="#262626" stroke-width="1.15"/>
<line x1="342.6" y1="499.2" x2="342.6" y2="502.6" stroke="#231f20" stroke-width="1"/>
<rect x="350.65" y="480.19" width="5.3" height="18.76" fill="#5b2a6e" stroke="#4a1660" stroke-width="0.5"/>
<line x1="353.3" y1="479.94" x2="353.3" y2="452.44" stroke="#333333" stroke-width="0.9"/>
<line x1="351.6" y1="452.99" x2="355" y2="452.99" stroke="#262626" stroke-width="1.15"/>
<line x1="353.3" y1="499.2" x2="353.3" y2="502.6" stroke="#231f20" stroke-width="1"/>
<rect x="366.55" y="419.95" width="5.3" height="79" fill="#c8102e" stroke="#bd0020" stroke-width="0.5"/>
<line x1="369.2" y1="419.7" x2="369.2" y2="413.28" stroke="#333333" stroke-width="0.9"/>
<line x1="367.5" y1="413.83" x2="370.9" y2="413.83" stroke="#262626" stroke-width="1.15"/>
<line x1="369.2" y1="499.2" x2="369.2" y2="502.6" stroke="#231f20" stroke-width="1"/>
<rect x="376.85" y="427.76" width="5.3" height="71.19" fill="#3cb44a" stroke="#20a236" stroke-width="0.5"/>
<line x1="379.5" y1="427.51" x2="379.5" y2="415.42" stroke="#333333" stroke-width="0.9"/>
<line x1="377.8" y1="415.97" x2="381.2" y2="415.97" stroke="#262626" stroke-width="1.15"/>
<line x1="379.5" y1="499.2" x2="379.5" y2="502.6" stroke="#231f20" stroke-width="1"/>
<rect x="387.25" y="471.09" width="5.3" height="27.86" fill="#134f7f" stroke="#053f6e" stroke-width="0.5"/>
<line x1="389.9" y1="470.84" x2="389.9" y2="452.12" stroke="#333333" stroke-width="0.9"/>
<line x1="388.2" y1="452.67" x2="391.6" y2="452.67" stroke="#262626" stroke-width="1.15"/>
<line x1="389.9" y1="499.2" x2="389.9" y2="502.6" stroke="#231f20" stroke-width="1"/>
<rect x="397.95" y="462" width="5.3" height="36.95" fill="#5b2a6e" stroke="#4a1660" stroke-width="0.5"/>
<line x1="400.6" y1="461.75" x2="400.6" y2="435.53" stroke="#333333" stroke-width="0.9"/>
<line x1="398.9" y1="436.08" x2="402.3" y2="436.08" stroke="#262626" stroke-width="1.15"/>
<line x1="400.6" y1="499.2" x2="400.6" y2="502.6" stroke="#231f20" stroke-width="1"/>
<rect x="413.55" y="430.97" width="5.3" height="67.98" fill="#c8102e" stroke="#bd0020" stroke-width="0.5"/>
<line x1="416.2" y1="430.72" x2="416.2" y2="421.09" stroke="#333333" stroke-width="0.9"/>
<line x1="414.5" y1="421.64" x2="417.9" y2="421.64" stroke="#262626" stroke-width="1.15"/>
<line x1="416.2" y1="499.2" x2="416.2" y2="502.6" stroke="#231f20" stroke-width="1"/>
<rect x="424.25" y="429.37" width="5.3" height="69.58" fill="#3cb44a" stroke="#20a236" stroke-width="0.5"/>
<line x1="426.9" y1="429.12" x2="426.9" y2="428.58" stroke="#333333" stroke-width="0.9"/>
<line x1="425.2" y1="429.13" x2="428.6" y2="429.13" stroke="#262626" stroke-width="1.15"/>
<line x1="426.9" y1="499.2" x2="426.9" y2="502.6" stroke="#231f20" stroke-width="1"/>
<rect x="434.75" y="416.31" width="5.3" height="82.64" fill="#134f7f" stroke="#053f6e" stroke-width="0.5"/>
<line x1="437.4" y1="416.06" x2="437.4" y2="406.75" stroke="#333333" stroke-width="0.9"/>
<line x1="435.7" y1="407.3" x2="439.1" y2="407.3" stroke="#262626" stroke-width="1.15"/>
<line x1="437.4" y1="499.2" x2="437.4" y2="502.6" stroke="#231f20" stroke-width="1"/>
<rect x="445.45" y="422.41" width="5.3" height="76.54" fill="#5b2a6e" stroke="#4a1660" stroke-width="0.5"/>
<line x1="448.1" y1="422.16" x2="448.1" y2="417.34" stroke="#333333" stroke-width="0.9"/>
<line x1="446.4" y1="417.89" x2="449.8" y2="417.89" stroke="#262626" stroke-width="1.15"/>
<line x1="448.1" y1="499.2" x2="448.1" y2="502.6" stroke="#231f20" stroke-width="1"/>
<rect x="461.15" y="449.59" width="5.3" height="49.36" fill="#c8102e" stroke="#bd0020" stroke-width="0.5"/>
<line x1="463.8" y1="449.34" x2="463.8" y2="433.61" stroke="#333333" stroke-width="0.9"/>
<line x1="462.1" y1="434.16" x2="465.5" y2="434.16" stroke="#262626" stroke-width="1.15"/>
<line x1="463.8" y1="499.2" x2="463.8" y2="502.6" stroke="#231f20" stroke-width="1"/>
<rect x="471.55" y="445.52" width="5.3" height="53.43" fill="#3cb44a" stroke="#20a236" stroke-width="0.5"/>
<line x1="474.2" y1="445.27" x2="474.2" y2="442.92" stroke="#333333" stroke-width="0.9"/>
<line x1="472.5" y1="443.47" x2="475.9" y2="443.47" stroke="#262626" stroke-width="1.15"/>
<line x1="474.2" y1="499.2" x2="474.2" y2="502.6" stroke="#231f20" stroke-width="1"/>
<rect x="482.05" y="437.39" width="5.3" height="61.56" fill="#134f7f" stroke="#053f6e" stroke-width="0.5"/>
<line x1="484.7" y1="437.14" x2="484.7" y2="422.16" stroke="#333333" stroke-width="0.9"/>
<line x1="483" y1="422.71" x2="486.4" y2="422.71" stroke="#262626" stroke-width="1.15"/>
<line x1="484.7" y1="499.2" x2="484.7" y2="502.6" stroke="#231f20" stroke-width="1"/>
<rect x="492.85" y="436.32" width="5.3" height="62.63" fill="#5b2a6e" stroke="#4a1660" stroke-width="0.5"/>
<line x1="495.5" y1="436.07" x2="495.5" y2="426.87" stroke="#333333" stroke-width="0.9"/>
<line x1="493.8" y1="427.42" x2="497.2" y2="427.42" stroke="#262626" stroke-width="1.15"/>
<line x1="495.5" y1="499.2" x2="495.5" y2="502.6" stroke="#231f20" stroke-width="1"/>
<polyline points="337.55,467.45 339,465.2 340.45,467.45" fill="none" stroke="#231f20" stroke-width="0.8" stroke-linejoin="miter"/>
<polyline points="341.15,467.45 342.6,465.2 344.05,467.45" fill="none" stroke="#231f20" stroke-width="0.8" stroke-linejoin="miter"/>
<polyline points="344.75,467.45 346.2,465.2 347.65,467.45" fill="none" stroke="#231f20" stroke-width="0.8" stroke-linejoin="miter"/>
<polyline points="388.45,446.35 390,443.8 391.55,446.35" fill="none" stroke="#231f20" stroke-width="0.8" stroke-linejoin="miter"/>
<text transform="translate(339.6 508.9) rotate(-45)" x="0" y="0" font-size="6.4" text-anchor="end" fill="#231f20" textLength="24" lengthAdjust="spacingAndGlyphs">50 ng/ml</text>
<text transform="translate(387 509) rotate(-45)" x="0" y="0" font-size="6.4" text-anchor="end" fill="#231f20" textLength="26.5" lengthAdjust="spacingAndGlyphs">100 ng/ml</text>
<text transform="translate(435.3 507.5) rotate(-45)" x="0" y="0" font-size="6.4" text-anchor="end" fill="#231f20" textLength="27.5" lengthAdjust="spacingAndGlyphs">0.05 U/ml</text>
<text transform="translate(483.3 508) rotate(-45)" x="0" y="0" font-size="6.4" text-anchor="end" fill="#231f20" textLength="14" lengthAdjust="spacingAndGlyphs">1 μM</text>
<text x="348" y="539.8" font-size="8.2" textLength="25.9" lengthAdjust="spacingAndGlyphs" fill="#231f20" style="stroke-width:0.45px">Convulxin</text>
<text x="426.3" y="539.8" font-size="8.2" textLength="11.6" lengthAdjust="spacingAndGlyphs" fill="#231f20" style="stroke-width:0.45px">THR</text>
<text x="473.9" y="539.8" font-size="8.2" textLength="11.2" lengthAdjust="spacingAndGlyphs" fill="#231f20" style="stroke-width:0.45px">U46</text>
<rect x="430.3" y="369.6" width="4.6" height="4.6" fill="#c8102e"/>
<text x="439" y="374.4" font-size="7.4" textLength="33.8" lengthAdjust="spacingAndGlyphs" fill="#231f20">WT vehicle</text>
<rect x="430.3" y="378.45" width="4.6" height="4.6" fill="#3cb44a"/>
<text x="439" y="383.25" font-size="7.4" textLength="45" lengthAdjust="spacingAndGlyphs" fill="#231f20">WT CIC-39Na</text>
<rect x="430.3" y="388.65" width="4.6" height="4.6" fill="#134f7f"/>
<text x="439" y="393.45" font-size="7.4" textLength="27.2" lengthAdjust="spacingAndGlyphs" fill="#231f20">KI-STIM1</text>
<text x="466.6" y="390.05" font-size="5.3" textLength="13.6" lengthAdjust="spacingAndGlyphs" fill="#231f20" style="stroke-width:0.1px">I115F</text>
<text x="481.9" y="393.45" font-size="7.4" textLength="20.6" lengthAdjust="spacingAndGlyphs" fill="#231f20">vehicle</text>
<rect x="430.3" y="398.8" width="4.6" height="4.6" fill="#5b2a6e"/>
<text x="439" y="403.6" font-size="7.4" textLength="27.2" lengthAdjust="spacingAndGlyphs" fill="#231f20">KI-STIM1</text>
<text x="466.6" y="400.2" font-size="5.3" textLength="13.6" lengthAdjust="spacingAndGlyphs" fill="#231f20" style="stroke-width:0.1px">I115F</text>
<text x="481.8" y="403.6" font-size="7.4" textLength="32.4" lengthAdjust="spacingAndGlyphs" fill="#231f20">CIC-39Na</text>
</svg>
</body></html>
